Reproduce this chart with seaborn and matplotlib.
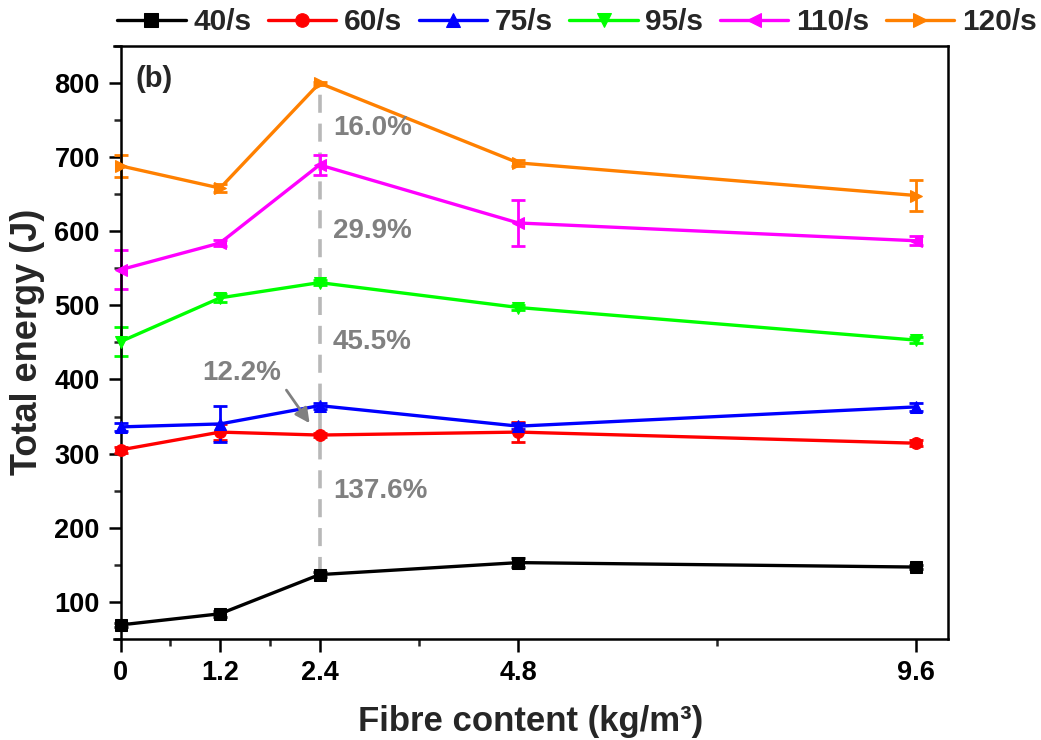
import matplotlib
matplotlib.use("Agg")
import matplotlib.pyplot as plt
from matplotlib.ticker import FixedLocator, MultipleLocator
import seaborn as sns
import pandas as pd

# ---- data ----
fibre = [0, 1.2, 2.4, 4.8, 9.6]
series_labels = ["40/s", "60/s", "75/s", "95/s", "110/s", "120/s"]
e40 = [69, 84, 136.8, 153, 147]
e60 = [305, 329, 325, 329, 314]
e75 = [336, 340, 364.7, 337, 363]
e95 = [451, 510, 530.6, 497, 453]
e110 = [548, 584, 689.3, 611, 587]
e120 = [688, 658, 799.6, 692, 648]
err40 = [3, 4, 3, 6, 3]
err60 = [4, 11, 3, 13, 4]
err75 = [5, 24, 4, 4, 5]
err95 = [20, 5, 3, 4, 4]
err110 = [26, 4, 13, 31, 6]
err120 = [15, 5, 2, 4, 21]
xticks_major = [0, 1.2, 2.4, 4.8, 9.6]
xticks_minor = [0.6, 1.8, 3.6, 7.2]
xtick_labels = ["0", "1.2", "2.4", "4.8", "9.6"]
pct_labels = ["16.0%", "29.9%", "45.5%", "137.6%"]
pct_y = [739, 600, 451, 249]

values = [e40, e60, e75, e95, e110, e120]
errors = [err40, err60, err75, err95, err110, err120]
colors = ["#000000", "#ff0000", "#0000ff", "#00ff00", "#ff00ff", "#ff8000"]
markers = ["s", "o", "^", "v", "<", ">"]

sns.set_style("ticks")
plt.rcParams["font.family"] = ["Liberation Sans", "DejaVu Sans"]
plt.rcParams["font.weight"] = "bold"
plt.rcParams["axes.labelweight"] = "bold"

fig = plt.figure(figsize=(10.41, 7.40), dpi=100)
ax = fig.add_axes([0.1095, 0.1365, 0.8009, 0.8017])

# dashed reference line at 2.4
ax.plot([2.4, 2.4], [e40[2], e120[2]], color="#b8b8b8", lw=2.6,
        dashes=(5, 3), zorder=1)

for lab, v, er, c, m in zip(series_labels, values, errors, colors, markers):
    df = pd.DataFrame({"x": fibre, "y": v})
    sns.lineplot(data=df, x="x", y="y", ax=ax, color=c, marker=m,
                 markersize=8.5, markeredgecolor=c, lw=2.4, label=lab,
                 zorder=3, legend=False)
    ax.errorbar(fibre, v, yerr=er, fmt="none", ecolor=c, elinewidth=2,
                capsize=5, capthick=2, zorder=2)

hl = [l for l in ax.get_lines() if l.get_label() in series_labels]
fig.legend(hl, series_labels, loc="center", bbox_to_anchor=(0.554, 0.97),
           ncol=6, frameon=False, handlelength=2.3, markerscale=1.15,
           handletextpad=0.25, columnspacing=0.55, borderaxespad=0,
           prop={"weight": "bold", "size": 21.5})

ax.set_xlim(-0.08, 9.98)
ax.set_ylim(50, 850)
ax.xaxis.set_major_locator(FixedLocator(xticks_major))
ax.set_xticklabels(xtick_labels)
ax.xaxis.set_minor_locator(FixedLocator(xticks_minor))
ax.yaxis.set_major_locator(MultipleLocator(100))
ax.yaxis.set_minor_locator(MultipleLocator(50))
ax.set_yticks(list(range(100, 801, 100)))

ax.spines["left"].set_position(("data", 0))
for s in ax.spines.values():
    s.set_linewidth(1.8)
    s.set_color("black")
ax.tick_params(axis="both", which="major", direction="out", length=9,
               width=1.8, labelsize=19.5, colors="black", pad=6)
ax.tick_params(axis="both", which="minor", direction="out", length=5,
               width=1.8)
for t in ax.get_xticklabels() + ax.get_yticklabels():
    t.set_fontweight("bold")

ax.set_xlabel("Fibre content (kg/m³)", fontsize=25,
              fontweight="bold", labelpad=14)
ax.set_ylabel("Total energy (J)", fontsize=26, fontweight="bold", labelpad=7)

ax.text(0.18, 805, "(b)", fontsize=21, fontweight="bold", va="center")

gray = "#808080"
for lab, yy in zip(pct_labels, pct_y):
    ax.text(2.56, yy, lab, fontsize=20, fontweight="bold", color=gray,
            va="center", ha="left")
ax.annotate("12.2%", xy=(2.28, 341), xytext=(0.99, 409), fontsize=20,
            fontweight="bold", color=gray, va="center", ha="left",
            arrowprops=dict(arrowstyle="-|>", color=gray, lw=2,
                            mutation_scale=22, shrinkA=2, shrinkB=0,
                            relpos=(1.0, 0.1)))

fig.savefig("out.png", dpi=100)
